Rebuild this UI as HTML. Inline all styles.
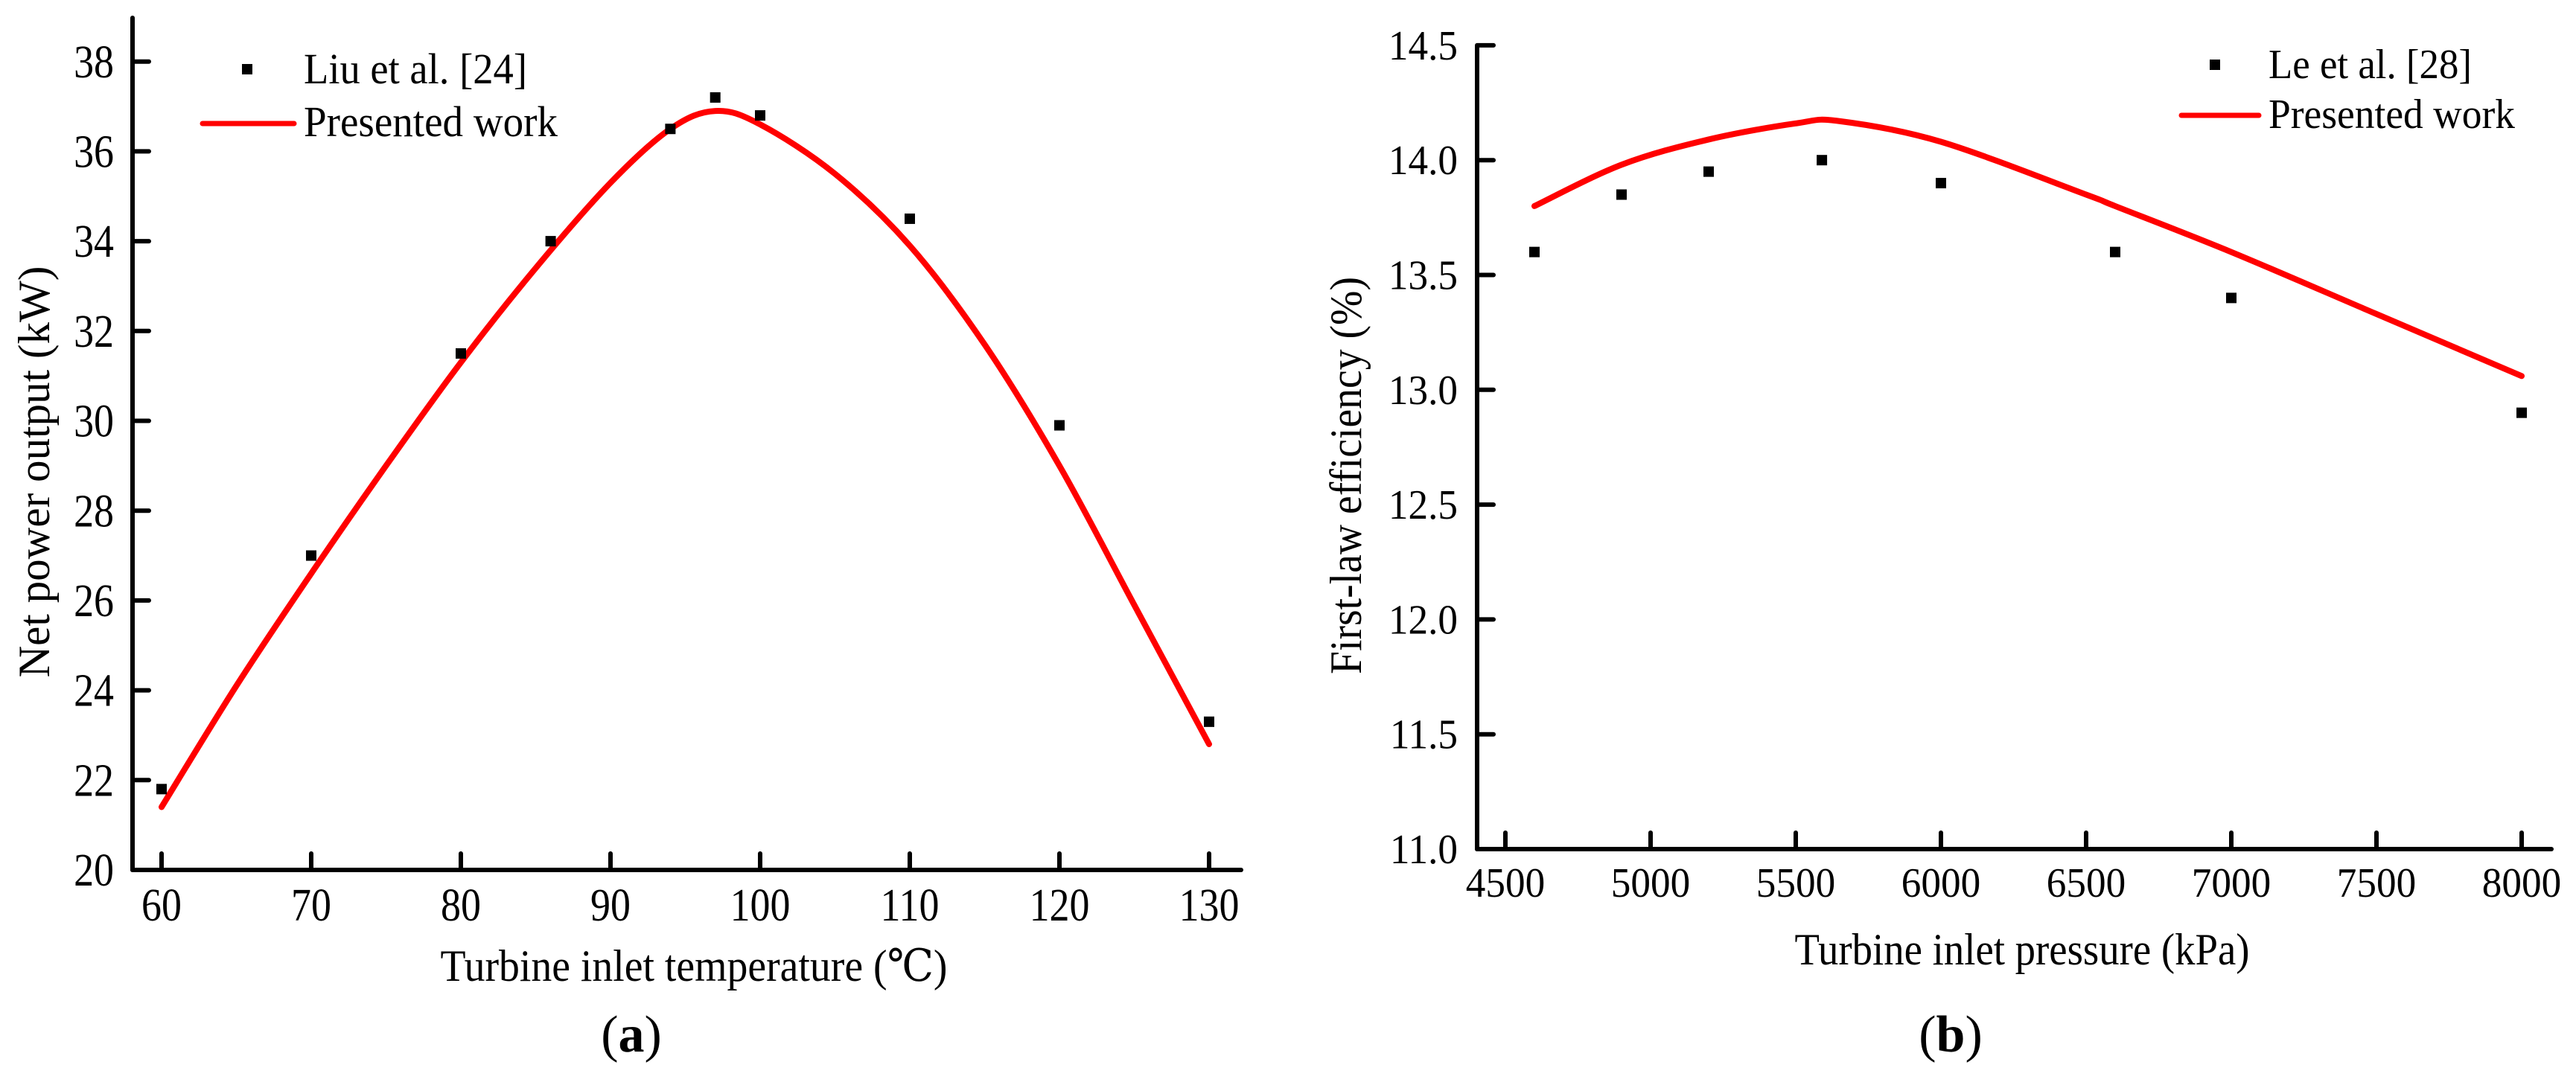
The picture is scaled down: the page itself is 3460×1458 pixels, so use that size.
<!DOCTYPE html>
<html><head><meta charset="utf-8"><style>
html,body{margin:0;padding:0;background:#fff;}
svg{display:block;}
text{font-family:"Liberation Serif","DejaVu Serif",serif;fill:#000;}
</style></head>
<body>
<svg id="fig" width="3460" height="1458" viewBox="0 0 3460 1458" xmlns="http://www.w3.org/2000/svg">
<g id="chartA"></g>
<g id="chartB"></g>
</svg>
<script>
// ---- Chart (a) data ----
const aXTicks = [60, 70, 80, 90, 100, 110, 120, 130];
const aYTicks = [20, 22, 24, 26, 28, 30, 32, 34, 36, 38];
const aPointX = [60, 70, 80, 86, 94, 97, 100, 110, 120, 130];
const aPointY = [21.8, 27.0, 31.5, 34.0, 36.5, 37.2, 36.8, 34.5, 29.9, 23.3];
const aCurveX = [60, 65, 70, 75, 80, 85, 90, 94, 97, 100, 105, 110, 115, 120, 125, 130];
const aCurveY = [21.4, 24.1, 26.6, 29.0, 31.3, 33.4, 35.3, 36.5, 36.9, 36.6, 35.5, 33.9, 31.7, 29.0, 25.9, 22.8];
// ---- Chart (b) data ----
const bXTicks = [4500, 5000, 5500, 6000, 6500, 7000, 7500, 8000];
const bYTicks = [11.0, 11.5, 12.0, 12.5, 13.0, 13.5, 14.0, 14.5];
const bPointX = [4600, 4900, 5200, 5590, 6000, 6600, 7000, 8000];
const bPointY = [13.6, 13.85, 13.95, 14.0, 13.9, 13.6, 13.4, 12.9];
const bCurveX = [4600, 4900, 5200, 5500, 5650, 6000, 6500, 6600, 7000, 7500, 8000];
const bCurveY = [13.80, 13.98, 14.09, 14.16, 14.17, 14.08, 13.85, 13.80, 13.60, 13.33, 13.06];

const NS = "http://www.w3.org/2000/svg";
function mk(parent, tag, attrs, txt) {
  const e = document.createElementNS(NS, tag);
  for (const k in attrs) e.setAttribute(k, attrs[k]);
  if (txt !== undefined) e.textContent = txt;
  parent.appendChild(e);
  return e;
}
function smoothPath(pts) {
  let d = "M" + pts[0][0] + "," + pts[0][1];
  for (let i = 0; i < pts.length - 1; i++) {
    const p0 = pts[i - 1] || pts[i], p1 = pts[i], p2 = pts[i + 1], p3 = pts[i + 2] || p2;
    const c1x = p1[0] + (p2[0] - p0[0]) / 6, c1y = p1[1] + (p2[1] - p0[1]) / 6;
    const c2x = p2[0] - (p3[0] - p1[0]) / 6, c2y = p2[1] - (p3[1] - p1[1]) / 6;
    d += " C" + c1x + "," + c1y + " " + c2x + "," + c2y + " " + p2[0] + "," + p2[1];
  }
  return d;
}
function drawChart(g, cfg) {
  const sx = v => cfg.x0px + (v - cfg.x0v) * cfg.xk;
  const sy = v => cfg.y0px - (v - cfg.y0v) * cfg.yk;
  const yAxis = mk(g, "line", {x1: cfg.axX, y1: cfg.axTop, x2: cfg.axX, y2: cfg.axY, stroke: "#000", "stroke-width": 6, "stroke-linecap": "round"});
  
  
  const xAxis = mk(g, "line", {x1: cfg.axX, y1: cfg.axY, x2: cfg.axRight, y2: cfg.axY, stroke: "#000", "stroke-width": 6, "stroke-linecap": "round"});
  
  
  cfg.xTicks.forEach(t => {
    const x = sx(t);
    const tk = mk(g, "line", {x1: x, y1: cfg.axY, x2: x, y2: cfg.axY - 22, stroke: "#000", "stroke-width": 6, "stroke-linecap": "round"});
    
    
    const lb = mk(g, "text", {transform: "translate(" + x + "," + cfg.xLabBase + ") scale(" + cfg.sc + ",1)", "font-size": cfg.fs, "text-anchor": "middle"}, String(t));
    
    
  });
  cfg.yTicks.forEach(t => {
    const y = sy(t);
    const tk = mk(g, "line", {x1: cfg.axX, y1: y, x2: cfg.axX + 22, y2: y, stroke: "#000", "stroke-width": 6, "stroke-linecap": "round"});
    
    
    const lb = mk(g, "text", {transform: "translate(" + cfg.yLabRight + "," + (y + cfg.fs * 0.34) + ") scale(" + cfg.sc + ",1)", "font-size": cfg.fs, "text-anchor": "end"}, cfg.yFmt(t));
    
    
  });
  const pts = cfg.cx.map((v, i) => [sx(v), sy(cfg.cy[i])]);
  const curve = mk(g, "path", {d: smoothPath(pts), fill: "none", stroke: "#ff0000", "stroke-width": 8, "stroke-linecap": "round", "stroke-linejoin": "round"});
  
  
  cfg.px.forEach((v, i) => {
    const r = mk(g, "rect", {x: sx(v) - 7, y: sy(cfg.py[i]) - 7, width: 14, height: 14, fill: "#000"});
    
    
  });
  const lg = mk(g, "g", {});
  
  
  const ls = mk(lg, "rect", {x: cfg.leg.sqx - 7, y: cfg.leg.sqy - 7, width: 14, height: 14, fill: "#000"});
  
  
  const lt1 = mk(lg, "text", {x: cfg.leg.tx, y: cfg.leg.b1, "font-size": cfg.leg.fs, textLength: cfg.leg.w1, lengthAdjust: "spacingAndGlyphs"}, cfg.leg.t1);
  
  
  const ll = mk(lg, "line", {x1: cfg.leg.lx1, y1: cfg.leg.ly, x2: cfg.leg.lx2, y2: cfg.leg.ly, stroke: "#ff0000", "stroke-width": 7, "stroke-linecap": "round"});
  
  
  const lt2 = mk(lg, "text", {x: cfg.leg.tx, y: cfg.leg.b2, "font-size": cfg.leg.fs, textLength: cfg.leg.w2, lengthAdjust: "spacingAndGlyphs"}, "Presented work");
  
  
  const yt = mk(g, "text", {transform: "translate(" + cfg.ytX + "," + cfg.ytY + ") rotate(-90)", "font-size": 60, "text-anchor": "middle", textLength: cfg.ytW, lengthAdjust: "spacingAndGlyphs"}, cfg.yTitle);
  
  
  const xt = mk(g, "text", {x: cfg.xtX, y: cfg.xtY, "font-size": 60, "text-anchor": "middle", textLength: cfg.xtW, lengthAdjust: "spacingAndGlyphs"}, cfg.xTitle);
  
  
  const pl = mk(g, "text", {x: cfg.plX, y: 1413, "font-size": 70, "text-anchor": "middle"});
  
  
  mk(pl, "tspan", {}, "(");
  mk(pl, "tspan", {"font-weight": "bold"}, cfg.plT);
  mk(pl, "tspan", {}, ")");
}

drawChart(document.getElementById("chartA"), {
  x0v: 60, x0px: 217, xk: 20.1, y0v: 20, y0px: 1169, yk: 60.35,
  axX: 178, axY: 1169, axTop: 24, axRight: 1667,
  xTicks: aXTicks, yTicks: aYTicks, yFmt: t => String(t),
  xLabBase: 1237, yLabRight: 153, fs: 62, sc: 0.87,
  px: aPointX, py: aPointY, cx: aCurveX, cy: aCurveY,
  leg: {sqx: 332, sqy: 93, tx: 408, b1: 112, b2: 183, fs: 58, w1: 300, w2: 341, lx1: 272, lx2: 395, ly: 166, t1: "Liu et al. [24]"},
  yTitle: "Net power output (kW)", ytX: 66, ytY: 634, ytW: 553,
  xTitle: "Turbine inlet temperature (\u2103)", xtX: 932, xtY: 1318, xtW: 681,
  plX: 848, plT: "a"
});
drawChart(document.getElementById("chartB"), {
  x0v: 4500, x0px: 2022, xk: 195 / 500, y0v: 11, y0px: 1141, yk: 154.3 / 0.5,
  axX: 1984, axY: 1141, axTop: 62, axRight: 3427,
  xTicks: bXTicks, yTicks: bYTicks, yFmt: t => t.toFixed(1),
  xLabBase: 1205, yLabRight: 1958, fs: 56, sc: 0.95,
  px: bPointX, py: bPointY, cx: bCurveX, cy: bCurveY,
  leg: {sqx: 2975, sqy: 87, tx: 3047, b1: 105, b2: 172, fs: 56, w1: 273, w2: 331, lx1: 2930, lx2: 3034, ly: 155, t1: "Le et al. [28]"},
  yTitle: "First-law efficiency (%)", ytX: 1828, ytY: 639, ytW: 534,
  xTitle: "Turbine inlet pressure (kPa)", xtX: 2716, xtY: 1296, xtW: 611,
  plX: 2620, plT: "b"
});
</script>
</body></html>
